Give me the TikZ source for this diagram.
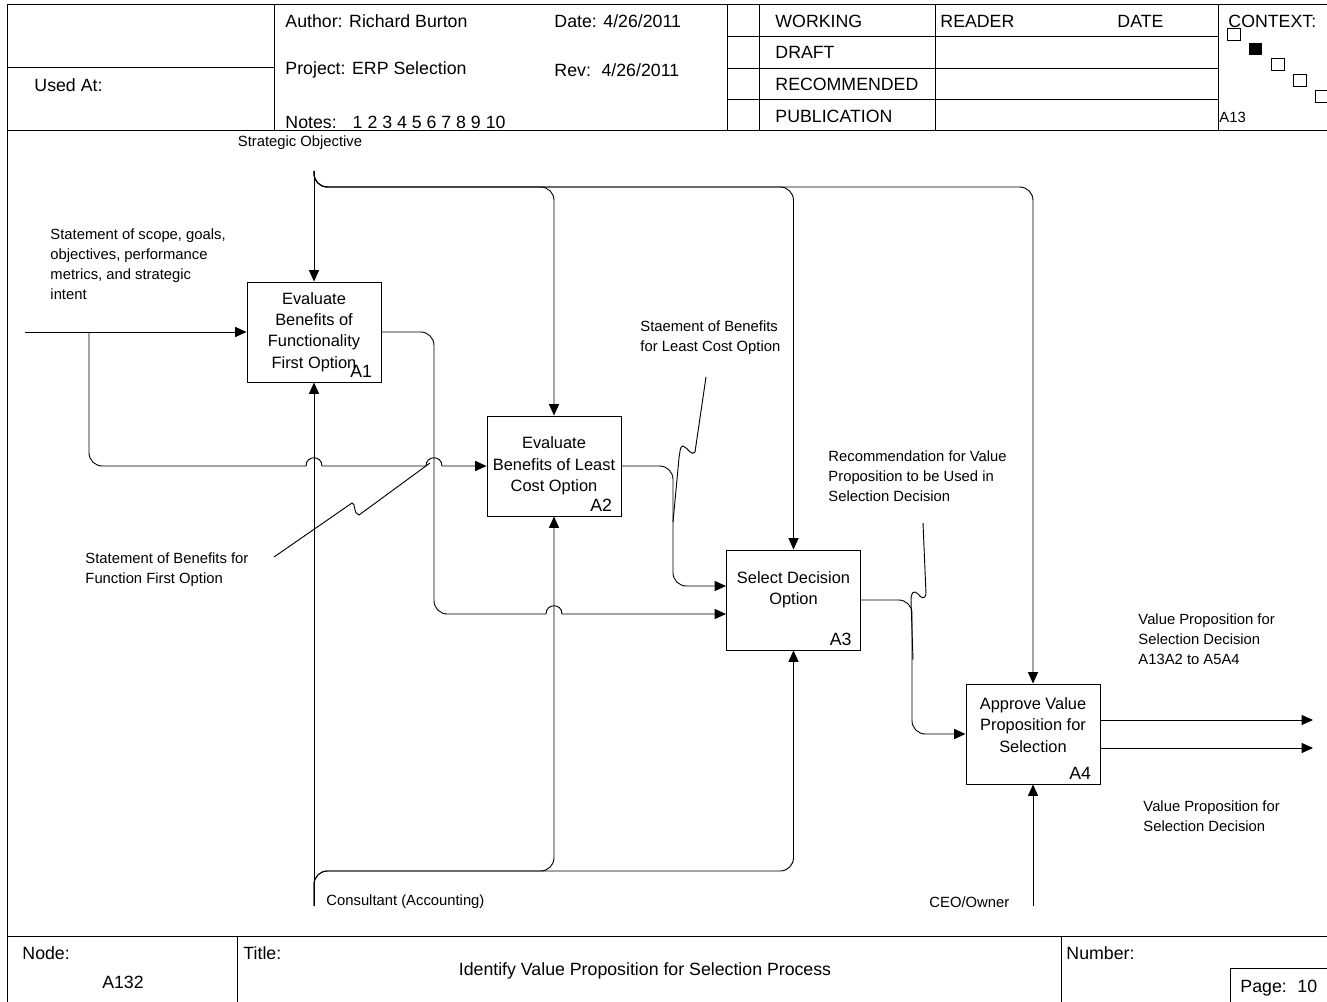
\documentclass[tikz,border=0pt]{standalone}
\usepackage{fontspec}
\setmainfont{Liberation Sans}
\usetikzlibrary{arrows.meta}
\newcommand{\hdfont}{\fontsize{13.3}{16}\selectfont}
\newcommand{\bxfont}{\fontsize{12.3}{16.1}\selectfont}
\newcommand{\smfont}{\fontsize{11.1}{15}\selectfont}

\begin{document}
\begin{tikzpicture}[x=0.75pt, y=-0.75pt, line width=0.7pt, >={Triangle[length=8.5pt,width=7.5pt]},
    hd/.style={anchor=west, inner sep=0, font=\hdfont},
    sm/.style={anchor=west, inner sep=0, font=\smfont, align=left},
    box/.style={draw, minimum width=100.5pt, minimum height=75pt, inner sep=0},
    boxtxt/.style={inner sep=0, font=\bxfont, align=center},
    boxnum/.style={anchor=base east, inner sep=0, font=\hdfont}]
  \useasboundingbox (0,0) rectangle (1327,1002);
  % frame and header
  \draw (7,4) -- (1327,4);
  \draw (7,4) -- (7,1002);
  \draw (7,130) -- (1327,130);
  \draw (274,4) -- (274,130);
  \draw (7,67) -- (274,67);
  \draw (727,4) -- (727,130);
  \draw (759,4) -- (759,130);
  \draw (935,4) -- (935,130);
  \draw (1218,4) -- (1218,130);
  \draw (727,36) -- (1218,36);
  \draw (727,68) -- (1218,68);
  \draw (727,99) -- (1218,99);
  \node[hd] (usedat) at (34,85) {Used At:};
  \node[hd] (author) at (285,21) {Author: Richard Burton};
  \node[hd] (date) at (554,21) {Date: 4/26/2011};
  \node[hd] (project) at (285,70) {Project: ERP Selection};
  \node[hd] (rev) at (554,70) {Rev:\hspace{8pt}4/26/2011};
  \node[hd] (notes) at (285,122) {Notes:\hspace{12pt}1 2 3 4 5 6 7 8 9 10};
  \node[hd] (working) at (775,21) {WORKING};
  \node[hd] (draft) at (775,52) {DRAFT};
  \node[hd] (recom) at (775,84) {RECOMMENDED};
  \node[hd] (publ) at (775,116) {PUBLICATION};
  \node[hd] (reader) at (940,21) {READER};
  \node[hd] (rdate) at (1117,21) {DATE};
  \node[hd] (context) at (1228,21) {CONTEXT:};
  \node[sm] (ctxnum) at (1219,117) {A13};
  \draw (1227,28) rectangle (1240,40);
  \fill (1249,43) rectangle (1262,55);
  \draw (1271,58) rectangle (1284,70);
  \draw (1293,74) rectangle (1306,86);
  \draw (1315,90) rectangle (1328,102);
  % footer
  \draw (7,936) -- (1327,936);
  \draw (237,936) -- (237,1002);
  \draw (1061,936) -- (1061,1002);
  \draw (1230,1002) |- (1327,968);
  \node[hd] (nodelbl) at (22,953) {Node:};
  \node[hd, anchor=center] (nodenum) at (123,982) {A132};
  \node[hd] (titlelbl) at (243,953) {Title:};
  \node[hd, anchor=center] (title) at (645,971) {Identify Value Proposition for Selection Process};
  \node[hd] (numlbl) at (1066,953) {Number:};
  \node[hd] (page) at (1240,988) {Page:\hspace{8pt}10};
  % activity boxes
  \node[box] (A1) at (314,332) {};
  \node[box] (A2) at (554,466) {};
  \node[box] (A3) at (793.5,600) {};
  \node[box] (A4) at (1033,734) {};
  \node[boxtxt] (A1txt) at (A1) {Evaluate\\Benefits of\\Functionality\\First Option};
  \node[boxtxt] (A2txt) at (A2) {Evaluate\\Benefits of Least\\Cost Option};
  \node[boxtxt] (A3txt) at ([yshift=7.5pt]A3.center) {Select Decision\\Option};
  \node[boxtxt] (A4txt) at ([yshift=7pt]A4.center) {Approve Value\\Proposition for\\Selection};
  \node[boxnum] (A1num) at ([shift={(-9,-5)}]A1.south east) {A1};
  \node[boxnum] (A2num) at ([shift={(-9,-5)}]A2.south east) {A2};
  \node[boxnum] (A3num) at ([shift={(-9,-5)}]A3.south east) {A3};
  \node[boxnum] (A4num) at ([shift={(-9,-5)}]A4.south east) {A4};
  % controls
  \node[inner sep=0, font=\smfont] (ctl) at (300,143) {Strategic Objective};
  \coordinate (ctltop) at (314,171);
  \coordinate (ctlbus) at (314,187);
  \draw[->] (ctltop) -- (A1.north);
  \draw[->, rounded corners=10pt] (ctltop) -- (ctlbus) -| (A2.north);
  \draw[->, rounded corners=10pt] (ctltop) -- (ctlbus) -| (A3.north);
  \draw[->, rounded corners=10pt] (ctltop) -- (ctlbus) -| (A4.north);
  % mechanisms
  \node[sm] (mec) at (326,902) {Consultant (Accounting)};
  \node[sm] (ceo) at (929,902) {CEO/Owner};
  \coordinate (mecbot) at (314,906);
  \coordinate (mecbus) at (314,871);
  \coordinate (ceobot) at (1033,906);
  \draw[->] (mecbot) -- (A1.south);
  \draw[->, rounded corners=10pt] (mecbot) -- (mecbus) -| (A2.south);
  \draw[->, rounded corners=10pt] (mecbot) -- (mecbus) -| (A3.south);
  \draw[->] (ceobot) -- (A4.south);
  % inputs
  \node[sm] (inlbl) at (50,264.5) {Statement of scope, goals,\\objectives, performance\\metrics, and strategic\\intent};
  \coordinate (inleft) at (25,332);
  \coordinate (inbr) at (89,332);
  \draw[->] (inleft) -- (A1.west);
  \draw[->] (inbr) [rounded corners=10pt] |- (250,466) [sharp corners] -- (306,466) .. controls (306,455) and (322,455) .. (322,466) -- (426,466) .. controls (426,455) and (442,455) .. (442,466) -- (A2.west);
  % flows between activities
  \draw[->] (A1.east) [rounded corners=10pt] -- (434,332) |- (500,614) [sharp corners] -- (546,614) .. controls (546,603) and (562,603) .. (562,614) -- ([yshift=-10.5pt]A3.west);
  \draw[->, rounded corners=10pt] (A2.east) -- (673,466) |- ([yshift=10.5pt]A3.west);
  \draw[->, rounded corners=10pt] (A3.east) -- (912,600) |- (A4.west);
  % outputs
  \coordinate (out1) at (1313,720);
  \coordinate (out2) at (1313,748);
  \draw[->] ([yshift=10.5pt]A4.east) -- (out1);
  \draw[->] ([yshift=-10.5pt]A4.east) -- (out2);
  \node[sm] (outlbl1) at (1138,639) {Value Proposition for\\Selection Decision\\A13A2 to A5A4};
  \node[sm] (outlbl2) at (1143,816.5) {Value Proposition for\\Selection Decision};
  % squiggle labels
  \node[sm] (a1lbl) at (85,570) {Statement of Benefits for\\Function First Option};
  \node[sm] (a2lbl) at (640,338) {Staement of Benefits\\for Least Cost Option};
  \node[sm] (a3lbl) at (828,476.5) {Recommendation for Value\\Proposition to be Used in\\Selection Decision};
  \draw (274,557) -- (352,503) .. controls (356,503) and (353,514) .. (359,515) -- (430,463);
  \draw (706,377) -- (695,452) .. controls (692,457) and (687,447) .. (683,446) .. controls (680,446) and (680,452) .. (679,458) -- (673,522);
  \draw (923,523) -- (926,594) .. controls (925,600) and (921,598) .. (918,594) .. controls (914,590) and (911,592) .. (911,600) -- (913,660);
\end{tikzpicture}
\end{document}
